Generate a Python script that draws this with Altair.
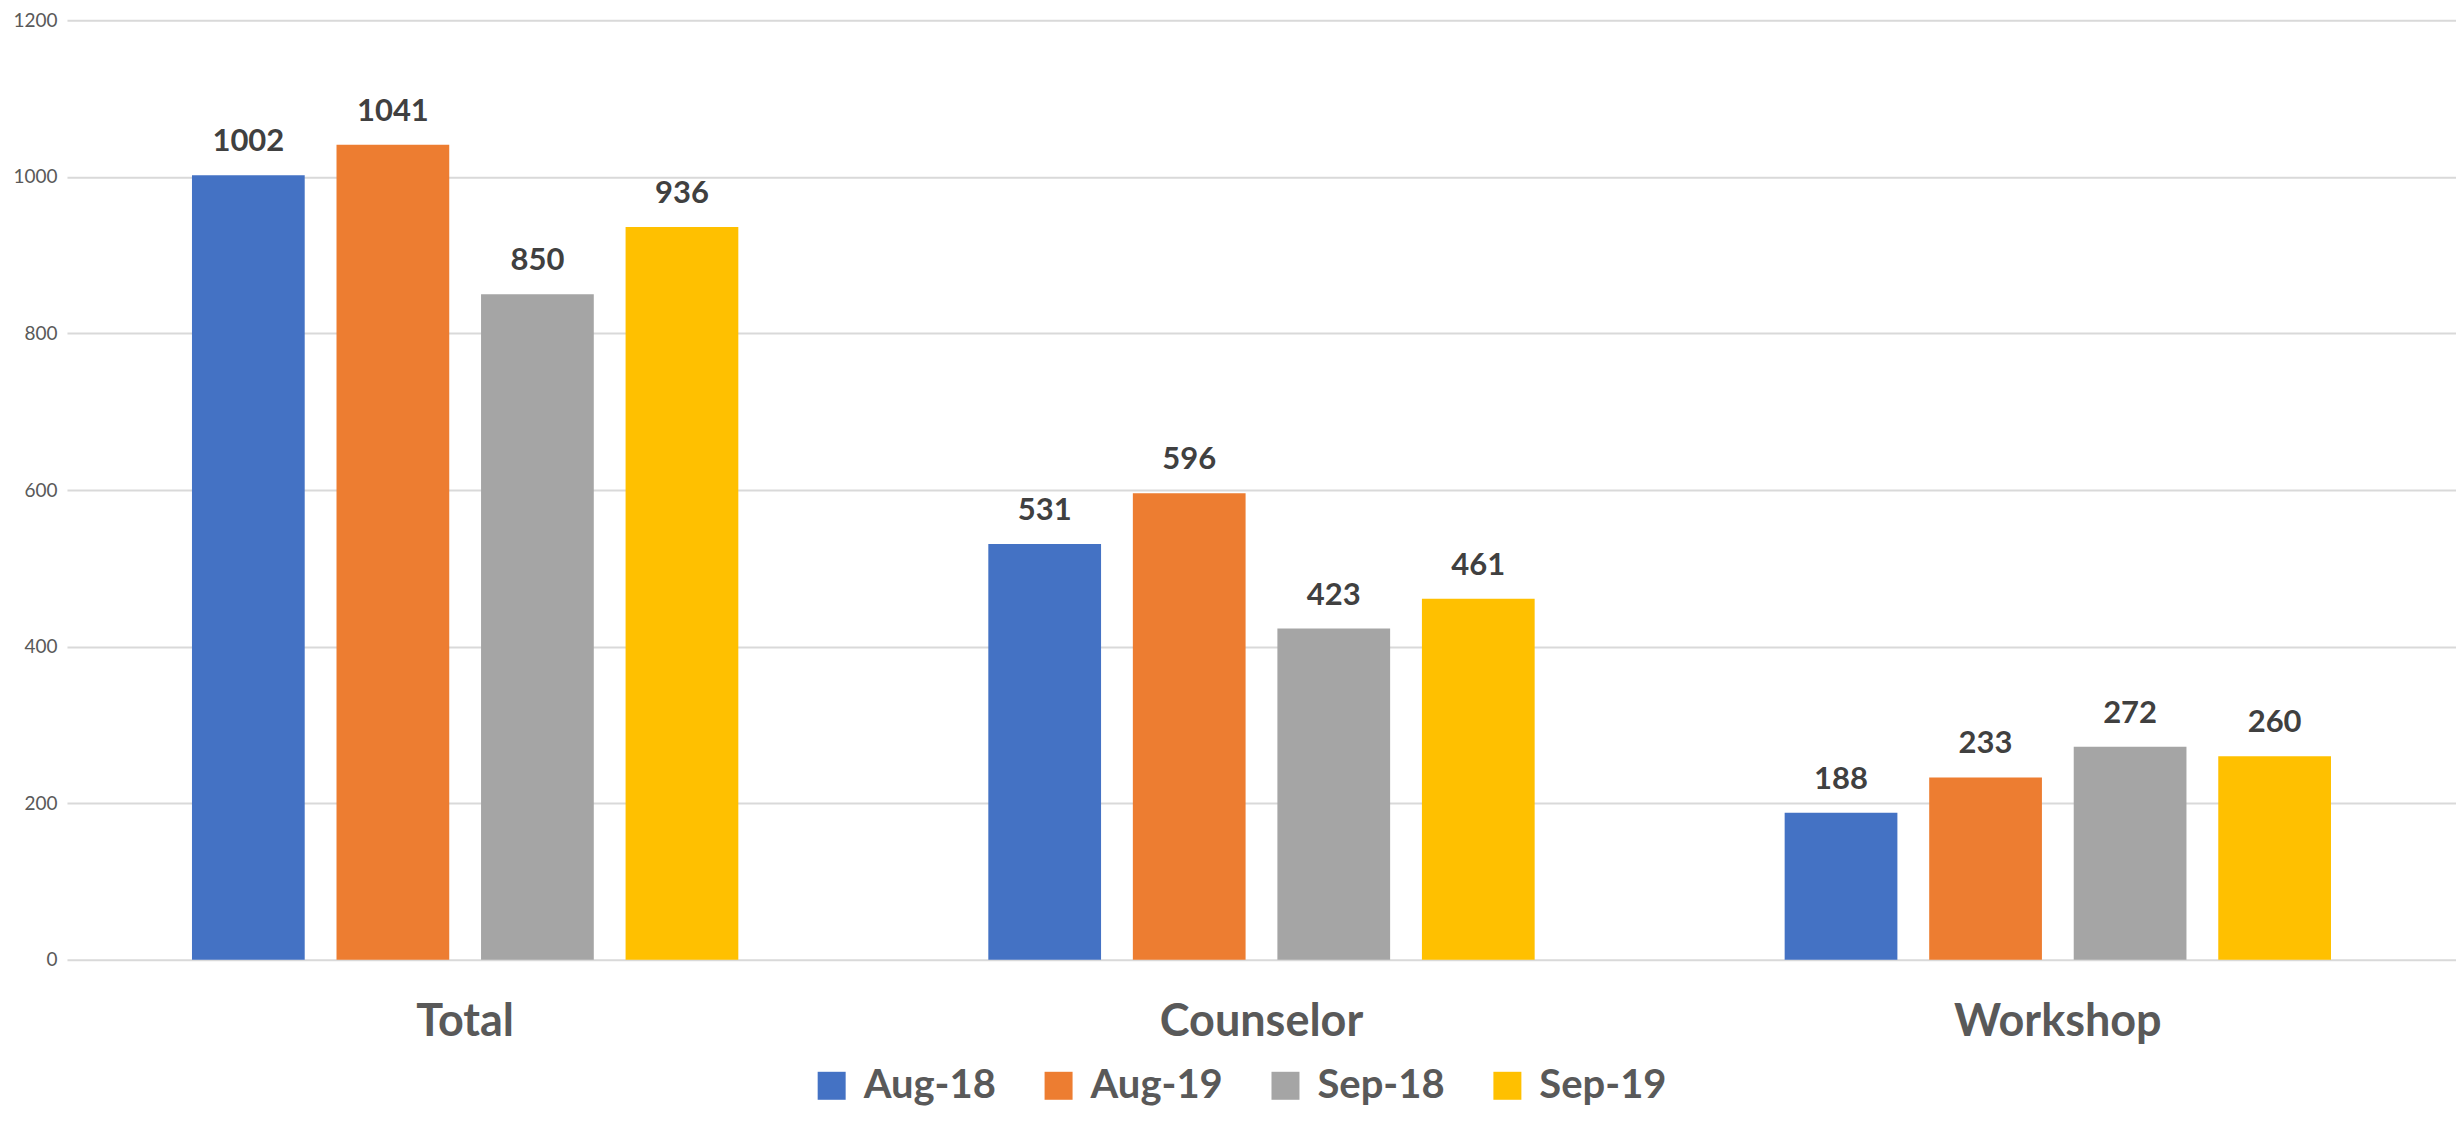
import altair as alt
import pandas as pd

categories = ["Total", "Counselor", "Workshop"]
series = ["Aug-18", "Aug-19", "Sep-18", "Sep-19"]
aug18 = [1002, 531, 188]
aug19 = [1041, 596, 233]
sep18 = [850, 423, 272]
sep19 = [936, 461, 260]
colors = ["#4472C4", "#ED7D31", "#A5A5A5", "#FFC000"]
y_ticks = [0, 200, 400, 600, 800, 1000, 1200]

rows = []
for s, vals in zip(series, [aug18, aug19, sep18, sep19]):
    for c, v in zip(categories, vals):
        rows.append({"category": c, "series": s, "value": v})
df = pd.DataFrame(rows)

FONT = "Lato"

x = alt.X(
    "category:N", sort=categories,
    scale=alt.Scale(paddingInner=0.274, paddingOuter=0.137),
    axis=alt.Axis(title=None, labelAngle=0, labelFontSize=45, labelFontWeight="bold",
                  labelColor="#595959", labelFont=FONT, labelPadding=40, labelLimit=0,
                  ticks=False, domain=False, grid=False),
)
xo = alt.XOffset("series:N", sort=series,
                 scale=alt.Scale(paddingInner=0.22, paddingOuter=0.11))
y = alt.Y(
    "value:Q", scale=alt.Scale(domain=[0, 1200]),
    axis=alt.Axis(title=None, values=y_ticks, format="d", labelFontSize=19,
                  labelColor="#595959", labelFont=FONT, labelPadding=10,
                  ticks=False, domain=False, gridColor="#D9D9D9", gridWidth=2),
)
color = alt.Color(
    "series:N", sort=series,
    scale=alt.Scale(domain=series, range=colors),
    legend=alt.Legend(title=None, orient="none", legendX=745, legendY=1046,
                      direction="horizontal",
                      symbolType="square", symbolSize=784, symbolStrokeWidth=0,
                      labelFontSize=40, labelFontWeight="bold", labelColor="#595959",
                      labelFont=FONT, labelOffset=12, columnPadding=42,
                      labelLimit=400),
)

base = alt.Chart(df).encode(x=x, xOffset=xo, y=y)
bars = base.mark_bar().encode(color=color)
text = base.mark_text(dy=-24, baseline="alphabetic", align="center", fontSize=31,
                      fontWeight="bold", color="#404040", font=FONT).encode(text="value:Q")

chart = alt.layer(bars, text).properties(
    width=2390, height=940,
    padding={"left": 59, "top": 12, "right": 0, "bottom": 150},
    autosize=alt.AutoSizeParams(type="none"),
).configure_view(stroke=None)

chart.save("out.html", embed_options={"renderer": "svg", "actions": False})
